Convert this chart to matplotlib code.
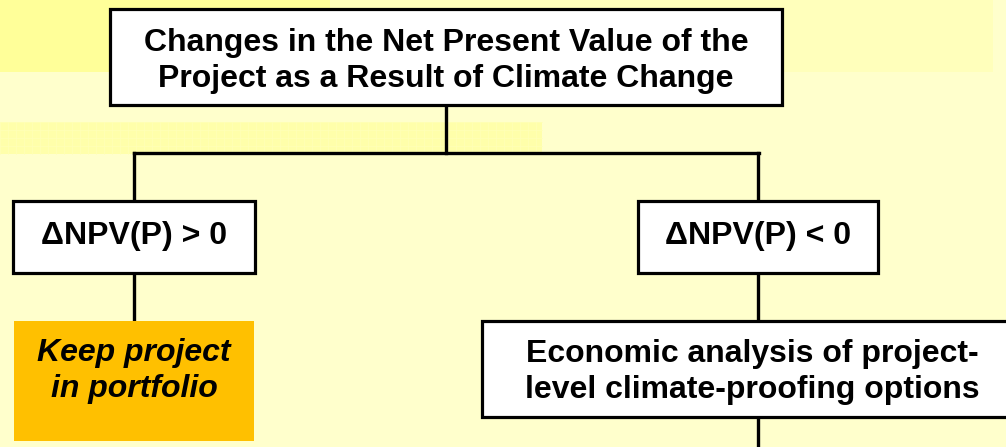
import numpy as np
import matplotlib.pyplot as plt
from matplotlib.patches import Rectangle

plt.rcParams['font.family'] = ['Liberation Sans', 'DejaVu Sans']

# node texts
top_label = "Changes in the Net Present Value of the\nProject as a Result of Climate Change"
left_label = "\u0394NPV(P) > 0"
right_label = "\u0394NPV(P) < 0"
keep_label = "Keep project\nin portfolio"
econ_label = "Economic analysis of project-\nlevel climate-proofing options"

W, H = 1006, 447
fig = plt.figure(figsize=(W / 100, H / 100), dpi=100)
ax = fig.add_axes([0, 0, 1, 1])
ax.set_xlim(0, W)
ax.set_ylim(H, 0)
ax.axis("off")

bg = "#FFFFCC"
fig.patch.set_facecolor(bg)
ax.set_facecolor(bg)

# background bands
ax.add_patch(Rectangle((0, 0), 330, 72, color="#FFFF99", lw=0, zorder=0))
ax.add_patch(Rectangle((330, 0), 663, 72, color="#FFFFBB", lw=0, zorder=0))
ax.add_patch(Rectangle((0, 122), 542, 32, color="#FFFFAA", lw=0, zorder=0))
for gx in np.arange(0, 542, 8):
    ax.plot([gx, gx], [122, 154], color="#FFFFB8", lw=0.5, zorder=0.5)
for gy in np.arange(122, 154, 8):
    ax.plot([0, 542], [gy, gy], color="#FFFFB8", lw=0.5, zorder=0.5)


def box(x0, y0, x1, y1, text, ty=None, face="white", edge="black", style="normal"):
    ax.add_patch(Rectangle((x0, y0), x1 - x0, y1 - y0, facecolor=face,
                           edgecolor=edge, lw=2.3, zorder=3, clip_on=True))
    if ty is None:
        ty = (y0 + y1) / 2
    ax.text((x0 + x1) / 2, ty, text, ha="center", va="center",
            fontsize=23, fontweight="bold", style=style, linespacing=1.3,
            zorder=4)


# connectors
lw = 2.4
ax.plot([446, 446], [105, 153], color="black", lw=lw, zorder=2)
ax.plot([134, 759], [153, 153], color="black", lw=lw, zorder=2,
        solid_capstyle="projecting")
ax.plot([134, 134], [153, 321], color="black", lw=lw, zorder=2)
ax.plot([758, 758], [153, 447], color="black", lw=lw, zorder=2)

box(110, 9, 782, 105, top_label, ty=61)
box(13, 201, 255, 273, left_label, ty=236)
box(638, 201, 878, 273, right_label, ty=236)
box(14, 321, 254, 441, keep_label, ty=371, face="#FFC000", edge="none",
    style="italic")
box(482, 321, 1022, 417, econ_label, ty=372)

fig.savefig("out.png", dpi=100, facecolor=bg)
